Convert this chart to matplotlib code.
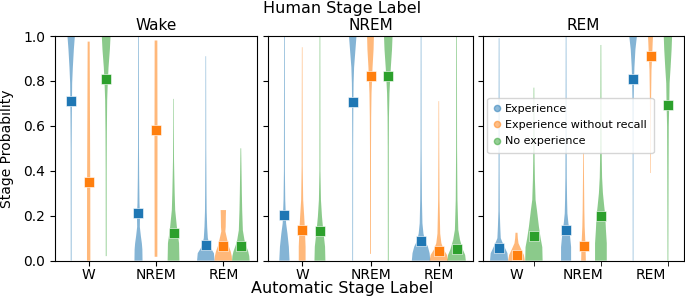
import numpy as np
import matplotlib
matplotlib.use("Agg")
import matplotlib.pyplot as plt
from matplotlib.lines import Line2D

panels = ["Wake", "NREM", "REM"]
categories = ["W", "NREM", "REM"]
groups = ["Experience", "Experience without recall", "No experience"]
colors = ["#1f77b4", "#ff7f0e", "#2ca02c"]

# mean stage probability per panel: [category][group]
means_wake = [[0.71, 0.35, 0.81], [0.21, 0.58, 0.125], [0.07, 0.065, 0.063]]
means_nrem = [[0.205, 0.138, 0.13], [0.705, 0.82, 0.82], [0.087, 0.042, 0.05]]
means_rem = [[0.057, 0.025, 0.11], [0.137, 0.067, 0.198], [0.81, 0.91, 0.695]]

# violin outlines: (probability knots, full width at knot)
violins_wake = [
    ([0, 0.5, 0.64, 0.72, 0.79, 0.86, 0.94, 1.0], [0.012, 0.014, 0.02, 0.025, 0.03, 0.05, 0.08, 0.11]),
    ([0, 0.3, 0.6, 0.975], [0.05, 0.048, 0.04, 0.03]),
    ([0.02, 0.4, 0.57, 0.715, 0.8, 0.86, 0.94, 1.0], [0.012, 0.015, 0.02, 0.03, 0.05, 0.07, 0.11, 0.13]),
    ([0, 0.05, 0.077, 0.11, 0.15, 0.2, 0.255, 0.37, 0.5, 1.0], [0.12, 0.115, 0.1, 0.07, 0.04, 0.045, 0.03, 0.02, 0.014, 0.01]),
    ([0.017, 0.5, 0.98], [0.04, 0.045, 0.04]),
    ([0, 0.077, 0.15, 0.225, 0.3, 0.37, 0.45, 0.6, 0.72], [0.175, 0.165, 0.1, 0.05, 0.035, 0.025, 0.015, 0.01, 0.008]),
    ([0, 0.033, 0.055, 0.075, 0.1, 0.15, 0.22, 0.3, 0.5, 0.91], [0.26, 0.24, 0.15, 0.1, 0.06, 0.04, 0.025, 0.02, 0.012, 0.008]),
    ([0, 0.02, 0.04, 0.065, 0.09, 0.13, 0.15, 0.2, 0.225], [0.26, 0.25, 0.22, 0.16, 0.12, 0.06, 0.07, 0.075, 0.08]),
    ([0, 0.02, 0.04, 0.065, 0.09, 0.135, 0.225, 0.3, 0.45, 0.5], [0.26, 0.25, 0.22, 0.16, 0.11, 0.06, 0.04, 0.03, 0.015, 0.01]),
]
violins_nrem = [
    ([0, 0.062, 0.12, 0.166, 0.205, 0.27, 0.4, 1.0], [0.15, 0.13, 0.09, 0.05, 0.04, 0.025, 0.014, 0.01]),
    ([0, 0.062, 0.138, 0.196, 0.27, 0.42, 0.95], [0.1, 0.1, 0.08, 0.06, 0.03, 0.015, 0.008]),
    ([0, 0.062, 0.13, 0.196, 0.27, 0.4, 1.0], [0.16, 0.15, 0.1, 0.06, 0.03, 0.014, 0.01]),
    ([0, 0.5, 0.7, 0.79, 0.86, 0.94, 1.0], [0.01, 0.012, 0.018, 0.025, 0.04, 0.08, 0.11]),
    ([0.03, 0.5, 0.64, 0.745, 0.82, 0.86, 0.94, 1.0], [0.012, 0.015, 0.02, 0.03, 0.05, 0.06, 0.09, 0.1]),
    ([0, 0.5, 0.64, 0.745, 0.82, 0.86, 0.94, 1.0], [0.012, 0.015, 0.02, 0.035, 0.06, 0.075, 0.11, 0.125]),
    ([0, 0.033, 0.062, 0.087, 0.12, 0.166, 0.27, 0.5, 1.0], [0.27, 0.25, 0.2, 0.12, 0.07, 0.04, 0.025, 0.014, 0.01]),
    ([0, 0.025, 0.047, 0.077, 0.12, 0.27, 0.5, 0.71], [0.27, 0.24, 0.15, 0.075, 0.04, 0.02, 0.012, 0.008]),
    ([0, 0.025, 0.05, 0.092, 0.137, 0.27, 0.5, 1.0], [0.27, 0.25, 0.18, 0.1, 0.05, 0.025, 0.014, 0.01]),
]
violins_rem = [
    ([0, 0.033, 0.055, 0.085, 0.1, 0.15, 0.22, 0.4, 0.99], [0.27, 0.25, 0.18, 0.09, 0.05, 0.035, 0.02, 0.015, 0.01]),
    ([0, 0.025, 0.047, 0.077, 0.1, 0.124], [0.25, 0.22, 0.15, 0.06, 0.04, 0.03]),
    ([0, 0.06, 0.1, 0.15, 0.225, 0.27, 0.36, 0.45, 0.6, 0.77], [0.26, 0.25, 0.2, 0.15, 0.09, 0.05, 0.03, 0.02, 0.015, 0.01]),
    ([0, 0.06, 0.1, 0.137, 0.165, 0.21, 0.27, 0.37, 0.6, 1.0], [0.15, 0.15, 0.125, 0.1, 0.07, 0.04, 0.03, 0.02, 0.014, 0.01]),
    ([0, 0.067, 0.1, 0.15, 0.225, 0.37, 0.48], [0.07, 0.06, 0.05, 0.035, 0.025, 0.015, 0.01]),
    ([0, 0.077, 0.136, 0.2, 0.24, 0.3, 0.37, 0.45, 0.7, 0.96], [0.175, 0.175, 0.15, 0.13, 0.1, 0.06, 0.035, 0.025, 0.015, 0.01]),
    ([0, 0.5, 0.73, 0.81, 0.86, 0.94, 1.0], [0.01, 0.012, 0.02, 0.03, 0.04, 0.07, 0.115]),
    ([0.39, 0.57, 0.745, 0.85, 0.91, 0.97, 1.0], [0.008, 0.01, 0.02, 0.03, 0.05, 0.065, 0.075]),
    ([0, 0.42, 0.6, 0.695, 0.79, 0.86, 0.94, 1.0], [0.012, 0.02, 0.025, 0.04, 0.05, 0.08, 0.11, 0.125]),
]

all_means = [means_wake, means_nrem, means_rem]
all_violins = [violins_wake, violins_nrem, violins_rem]

W, H = 685, 298
fig = plt.figure(figsize=(W / 100, H / 100), dpi=100)
boxes = [(55, 257), (268, 473), (483, 684)]
top_px, bot_px = 36, 260.6
offsets = [-0.26, 0.0, 0.26]

axes = []
for p, (l, r) in enumerate(boxes):
    ax = fig.add_axes([l / W, 1 - bot_px / H, (r - l) / W, (bot_px - top_px) / H])
    axes.append(ax)
    vstats, positions, widths, cols = [], [], [], []
    for ci in range(3):
        for gi in range(3):
            ys, ws = all_violins[p][ci * 3 + gi]
            ys = np.asarray(ys, float)
            ws = np.asarray(ws, float)
            vstats.append(dict(coords=ys, vals=ws, mean=ys.mean(), median=np.median(ys),
                               min=ys.min(), max=ys.max()))
            positions.append(ci + offsets[gi])
            widths.append(ws.max())
            cols.append(colors[gi])
    parts = ax.violin(vstats, positions=positions, widths=widths, showmeans=False,
                      showextrema=False, showmedians=False)
    for body, c in zip(parts["bodies"], cols):
        body.set_facecolor(c)
        body.set_edgecolor("none")
        body.set_alpha(0.55)
    for ci in range(3):
        for gi in range(3):
            ax.plot(ci + offsets[gi], all_means[p][ci][gi], "s", color=colors[gi],
                    markersize=7.5, markeredgecolor="white", markeredgewidth=0.4, zorder=3)
    ax.set_xlim(-0.5, 2.5)
    ax.set_ylim(0, 1)
    ax.set_yticks(np.arange(0, 1.01, 0.2))
    ax.set_title(panels[p], fontsize=11, pad=4)
    ax.tick_params(labelsize=10)
    ax.tick_params(axis="x", pad=2)
    ax.set_xticks(range(3))
    ax.set_xticklabels(categories)
    if p == 2:
        ax.tick_params(axis="x", which="major", length=0, pad=5.5)
        ax.set_xticks([c + offsets[2] for c in range(3)], minor=True)
        ax.tick_params(axis="x", which="minor", length=3.5)
    if p == 0:
        ax.set_ylabel("Stage Probability", fontsize=10, labelpad=7)
    else:
        ax.set_yticklabels([])

handles = [Line2D([], [], marker="o", linestyle="none", color=c, alpha=0.5, markersize=4.5)
           for c in colors]
axes[2].legend(handles, groups, loc="upper left", bbox_to_anchor=(0.022, 0.726),
               fontsize=8, handlelength=0.5, handletextpad=0.5, borderpad=0.6,
               labelspacing=0.55, borderaxespad=0.0)

fig.text(0.5, 1 - 13 / H, "Human Stage Label", ha="center", va="baseline", fontsize=11.5)
fig.text(0.5, 1 - 293 / H, "Automatic Stage Label", ha="center", va="baseline", fontsize=11.5)

fig.savefig("out.png", dpi=100)
